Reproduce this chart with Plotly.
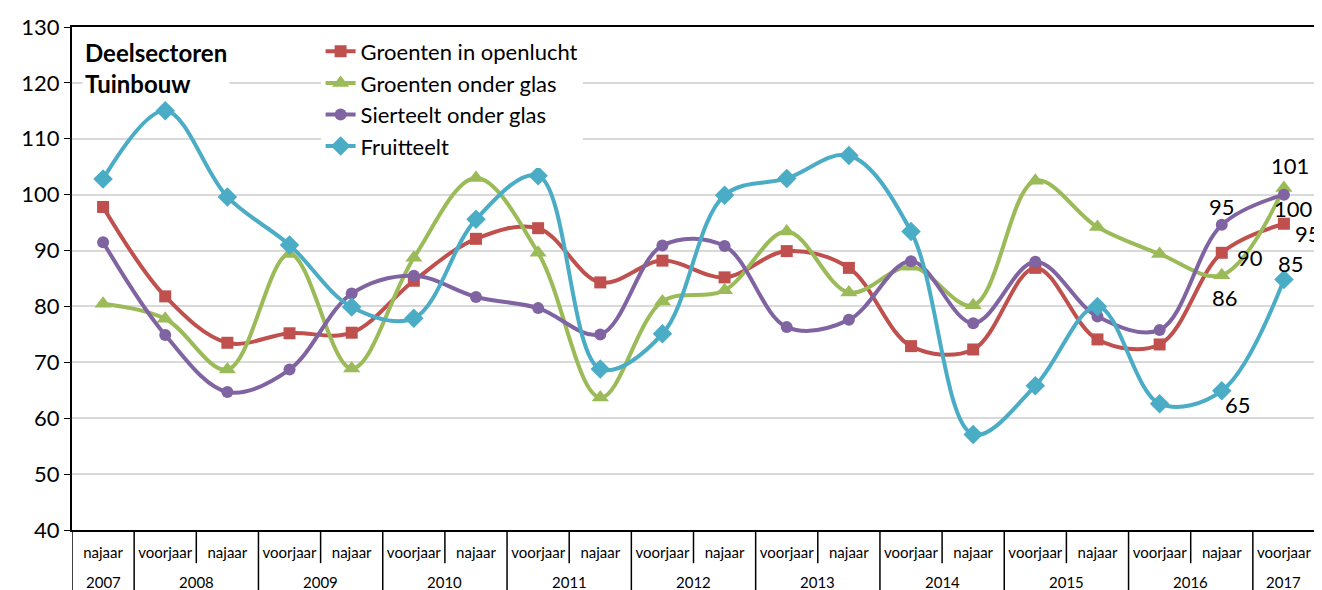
import plotly.graph_objects as go

# categories (two-level x axis)
years = ["2007", "2008", "2008", "2009", "2009", "2010", "2010", "2011", "2011", "2012",
         "2012", "2013", "2013", "2014", "2014", "2015", "2015", "2016", "2016", "2017"]
seasons = ["najaar", "voorjaar"] * 10
periods = [f"{s} {y}" for s, y in zip(seasons, years)]

# series values
groenten_openlucht = [97.8, 81.8, 73.5, 75.2, 75.3, 84.6, 92.1, 94.0, 84.3, 88.2,
                      85.2, 89.9, 86.9, 72.9, 72.3, 86.9, 74.1, 73.2, 89.6, 94.8]
groenten_glas = [80.5, 77.8, 68.7, 89.4, 68.9, 88.7, 103.0, 89.6, 63.7, 80.9,
                 82.9, 93.4, 82.5, 87.1, 80.2, 102.5, 94.2, 89.4, 85.6, 101.2]
sierteelt_glas = [91.5, 74.9, 64.7, 68.7, 82.3, 85.5, 81.7, 79.7, 75.0, 90.9,
                  90.8, 76.3, 77.6, 88.1, 77.0, 88.0, 78.2, 75.8, 94.6, 100.0]
fruitteelt = [102.8, 115.0, 99.6, 91.0, 79.9, 77.9, 95.6, 103.4, 68.8, 75.1,
              99.9, 102.9, 107.0, 93.4, 57.1, 65.8, 80.0, 62.6, 64.9, 84.8]

# labels shown on the last two points
labels_openlucht = ["90", "95"]
labels_glas = ["86", "101"]
labels_sierteelt = ["95", "100"]
labels_fruit = ["65", "85"]

FONT = "Lato"

# name, values, colour, marker, size, labels, label offsets (px)
series = [
    ("Groenten in openlucht", groenten_openlucht, "#C0504D", "square", 12,
     labels_openlucht, [(28, -5), (24, -10)]),
    ("Groenten onder glas", groenten_glas, "#9BBB59", "triangle-up", 15,
     labels_glas, [(3, -22), (6, 22)]),
    ("Sierteelt onder glas", sierteelt_glas, "#8064A2", "circle", 12,
     labels_sierteelt, [(0, 18), (10, -14)]),
    ("Fruitteelt", fruitteelt, "#4BACC6", "diamond", 15,
     labels_fruit, [(16, -14), (7, 16)]),
]

fig = go.Figure()
for name, vals, color, symbol, size, lab, offs in series:
    fig.add_trace(go.Scatter(
        x=periods, y=vals, name=name,
        mode="lines+markers",
        line=dict(color=color, width=4, shape="spline", smoothing=1.0),
        marker=dict(symbol=symbol, size=size, color=color),
    ))
    # value labels on the last two points
    for k, (txt, (dx, dy)) in enumerate(zip(lab, offs)):
        i = len(vals) - len(lab) + k
        fig.add_annotation(x=periods[i], y=vals[i], text=txt, showarrow=False,
                           xshift=dx, yshift=dy,
                           font=dict(family=FONT, size=22, color="black"))

fig.add_annotation(
    text="<b>Deelsectoren<br>Tuinbouw</b>", xref="paper", yref="paper",
    x=0.008, y=0.984, xanchor="left", yanchor="top", align="left",
    showarrow=False, bgcolor="white", borderpad=2,
    font=dict(family=FONT, size=24, color="black"),
)

# category separators below the axis and year labels
n = len(periods)
bounds = [-0.5] + [i - 0.5 for i in range(1, n) if years[i] != years[i - 1]] + [n - 0.5]
for i in range(1, n):
    if years[i] == years[i - 1]:
        fig.add_shape(type="line", xref="x", yref="paper", x0=i - 0.5, x1=i - 0.5,
                      y0=0, y1=-0.066, line=dict(color="black", width=1.5))
for b in bounds:
    fig.add_shape(type="line", xref="x", yref="paper", x0=b, x1=b,
                  y0=0, y1=-0.13, line=dict(color="black", width=1.5))
for y in dict.fromkeys(years):
    idx = [i for i, v in enumerate(years) if v == y]
    fig.add_annotation(text=y, xref="x", yref="paper", x=sum(idx) / len(idx), y=-0.103,
                       yanchor="middle", showarrow=False,
                       font=dict(family=FONT, size=15, color="black"))

fig.update_layout(
    width=1314, height=582,
    margin=dict(l=64, r=5, t=18, b=60),
    paper_bgcolor="white", plot_bgcolor="white",
    font=dict(family=FONT, color="black"),
    legend=dict(
        x=0.2, y=0.993, xanchor="left", yanchor="top",
        bgcolor="white", font=dict(family=FONT, size=22),
        tracegroupgap=0,
    ),
)
fig.update_xaxes(
    type="category", tickvals=periods, ticktext=seasons,
    range=[-0.5, n - 0.5],
    showline=True, linecolor="black", linewidth=2, mirror=True,
    showgrid=False, ticks="", ticklabelstandoff=8,
    tickfont=dict(family=FONT, size=15, color="black"),
)
fig.update_yaxes(
    range=[40, 130], dtick=10,
    showline=True, linecolor="black", linewidth=2, mirror=True,
    showgrid=True, gridcolor="#d9d9d9", gridwidth=2,
    ticks="outside", ticklen=6, tickcolor="black",
    tickfont=dict(family=FONT, size=22, color="black"),
    zeroline=False,
)

fig.write_html("out.html")
